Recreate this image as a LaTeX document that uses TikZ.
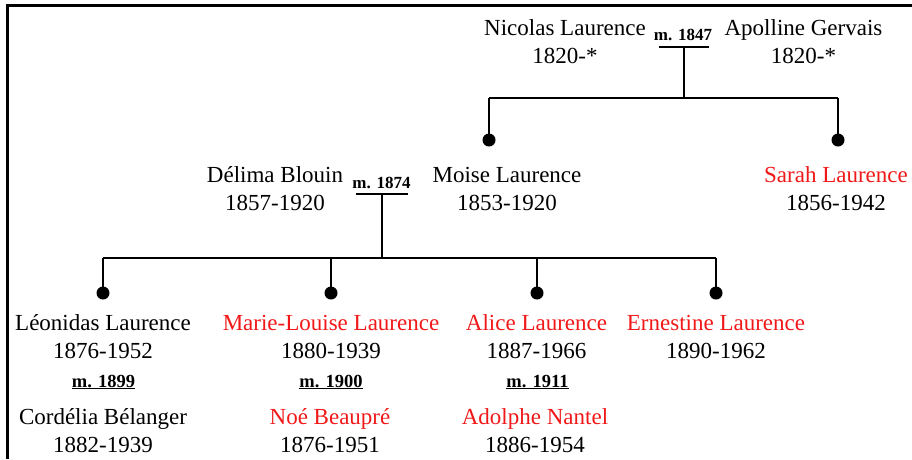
\documentclass[tikz,border=0pt]{standalone}
\usepackage{fontspec}
\setmainfont{Liberation Serif}
\definecolor{kinred}{HTML}{F01818}
\tikzset{
  person/.style={anchor=base, align=center, inner sep=0pt, font=\fontsize{23}{28}\selectfont},
  mlabel/.style={anchor=base, inner sep=0pt, font=\fontsize{17}{20}\selectfont\bfseries},
  mlabelu/.style={anchor=base, inner sep=0pt, font=\fontsize{18.5}{21}\selectfont\bfseries},
  dot/.style={circle, fill=black, inner sep=0pt, minimum size=13pt},
  link/.style={line width=2pt},
  frame/.style={line width=3pt}
}
\newcommand{\ul}[1]{\underline{#1}}
\begin{document}
\begin{tikzpicture}[x=1pt,y=-1pt]
\useasboundingbox (0,0) rectangle (912,459);
\draw[frame] (7,459) -- (7,5) -- (913,5);

% generation 1 (anchor = baseline of the last line)
\node[person] (nicolas) at (565,63) {Nicolas Laurence\\1820-*};
\node[person] (apolline) at (803.5,63) {Apolline Gervais\\1820-*};
\node[mlabel] (m1847) at (683,40) {m. 1847};
\coordinate (bar1l) at (659,47);
\coordinate (bar1r) at (709,47);
\coordinate (bar1c) at (684,47);
\coordinate (bus1c) at (684,98);
\coordinate (bus1l) at (489,98);
\coordinate (bus1r) at (838,98);
\node[dot] (d1) at (489,140) {};
\node[dot] (d2) at (838,140) {};
\draw[link] (bar1l) -- (bar1r);
\draw[link] (bar1c) -- (bus1c);
\draw[link] (bus1l) -- (bus1r);
\draw[link] (bus1l) -- (d1.center);
\draw[link] (bus1r) -- (d2.center);

% generation 2
\node[person] (delima) at (275,210) {Délima Blouin\\1857-1920};
\node[person] (moise) at (507,210) {Moise Laurence\\1853-1920};
\node[person] (sarah) at (836,210) {\textcolor{kinred}{Sarah Laurence}\\1856-1942};
\node[mlabel] (m1874) at (381.5,188) {m. 1874};
\coordinate (bar2l) at (356,194);
\coordinate (bar2r) at (408,194);
\coordinate (bar2c) at (382,194);
\coordinate (bus2c) at (382,258);
\coordinate (bus2a) at (103,258);
\coordinate (bus2b) at (331,258);
\coordinate (bus2c2) at (537,258);
\coordinate (bus2d) at (716,258);
\node[dot] (c1) at (103,293) {};
\node[dot] (c2) at (331,293) {};
\node[dot] (c3) at (537,293) {};
\node[dot] (c4) at (716,293) {};
\draw[link] (bar2l) -- (bar2r);
\draw[link] (bar2c) -- (bus2c);
\draw[link] (bus2a) -- (bus2d);
\draw[link] (bus2a) -- (c1.center);
\draw[link] (bus2b) -- (c2.center);
\draw[link] (bus2c2) -- (c3.center);
\draw[link] (bus2d) -- (c4.center);

% generation 3
\node[person] (leonidas) at (103,358) {Léonidas Laurence\\1876-1952};
\node[person] (marielouise) at (331,358) {\textcolor{kinred}{Marie-Louise Laurence}\\1880-1939};
\node[person] (alice) at (536.5,358) {\textcolor{kinred}{Alice Laurence}\\1887-1966};
\node[person] (ernestine) at (716,358) {\textcolor{kinred}{Ernestine Laurence}\\1890-1962};

\node[mlabelu] (m1899) at (103.5,387) {\ul{m. 1899}};
\node[mlabelu] (m1900) at (331,387) {\ul{m. 1900}};
\node[mlabelu] (m1911) at (537.5,387) {\ul{m. 1911}};

\node[person] (cordelia) at (103,452) {Cordélia Bélanger\\1882-1939};
\node[person] (noe) at (330,452) {\textcolor{kinred}{Noé Beaupré}\\1876-1951};
\node[person] (adolphe) at (535,452) {\textcolor{kinred}{Adolphe Nantel}\\1886-1954};
\end{tikzpicture}
\end{document}
